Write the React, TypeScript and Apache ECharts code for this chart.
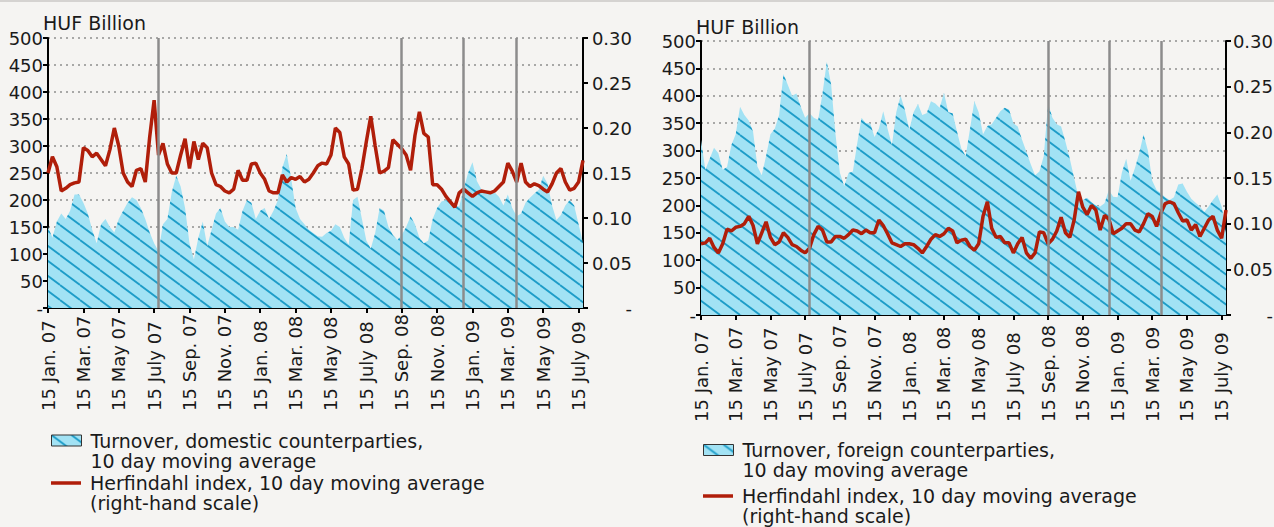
import React, { useEffect, useRef } from 'react';
import * as echarts from 'echarts';

// ---------- DATA ----------
const tickLabels = [
  '15 Jan. 07', '15 Mar. 07', '15 May 07', '15 July 07', '15 Sep. 07', '15 Nov. 07',
  '15 Jan. 08', '15 Mar. 08', '15 May 08', '15 July 08', '15 Sep. 08', '15 Nov. 08',
  '15 Jan. 09', '15 Mar. 09', '15 May 09', '15 July 09',
];

const weekDays = [1, 8, 15, 22];
const firstDate = '2007-01-15';
const lastDate = '2009-07-22';

function buildCategories(): string[] {
  const out: string[] = [];
  for (let y = 2007; y <= 2009; y++) {
    for (let m = 1; m <= 12; m++) {
      for (const d of weekDays) {
        const s = `${y}-${String(m).padStart(2, '0')}-${String(d).padStart(2, '0')}`;
        if (s >= firstDate && s <= lastDate) out.push(s);
      }
    }
  }
  return out;
}
const categories = buildCategories();

// vertical event markers
const eventDates = ['2007-07-22', '2008-09-15', '2009-01-01', '2009-04-01'];

// HUF billion, domestic counterparties
const domesticTurnover = [
  150, 130, 160, 175, 165, 180, 210, 210, 195, 175, 145, 120, 155, 165, 150, 140, 165, 180, 195, 205,
  200, 185, 165, 140, 120, 105, 155, 165, 215, 245, 225, 185, 120, 90, 130, 160, 115, 145, 175, 185,
  160, 150, 150, 145, 180, 200, 195, 165, 180, 185, 165, 180, 200, 260, 285, 240, 185,
  165, 155, 145, 139, 133, 132, 139, 143, 155, 150, 130, 117, 200, 206, 165, 125, 110, 139, 185, 180,
  150, 135, 126, 135, 150, 170, 155, 130, 120, 125, 165, 185, 197, 200, 196, 190, 188, 220, 250, 270,
  235, 220, 213, 216, 214, 206, 190, 210, 185, 170, 175, 195, 204, 212, 219, 245, 230, 190, 163, 172,
  190, 200, 190, 155, 120,
];

const domesticHerfindahl = [
  0.150, 0.168, 0.157, 0.130, 0.133, 0.137, 0.139, 0.140, 0.178, 0.175, 0.168, 0.172, 0.165, 0.158, 0.176,
  0.200, 0.180, 0.150, 0.140, 0.135, 0.153, 0.155, 0.140, 0.190, 0.231, 0.170, 0.183, 0.160, 0.150, 0.150,
  0.170, 0.188, 0.155, 0.185, 0.165, 0.183, 0.178, 0.150, 0.137, 0.135, 0.130, 0.128, 0.132, 0.153, 0.142,
  0.142, 0.160, 0.161, 0.150, 0.143, 0.130, 0.128, 0.128, 0.148, 0.140, 0.145, 0.143,
  0.146, 0.140, 0.143, 0.150, 0.158, 0.161, 0.160, 0.170, 0.200, 0.195, 0.168, 0.160, 0.131, 0.132, 0.155,
  0.185, 0.213, 0.180, 0.150, 0.152, 0.156, 0.187, 0.182, 0.177, 0.170, 0.153, 0.192, 0.218, 0.194, 0.190,
  0.137, 0.137, 0.132, 0.124, 0.118, 0.112, 0.128, 0.132, 0.128, 0.124, 0.128, 0.130, 0.129, 0.128, 0.130,
  0.135, 0.140, 0.161, 0.152, 0.140, 0.161, 0.140, 0.135, 0.138, 0.136, 0.132, 0.129, 0.138, 0.150, 0.155,
  0.140, 0.131, 0.133, 0.140, 0.164,
];

// HUF billion, foreign counterparties
const foreignTurnover = [
  320, 265, 285, 305, 295, 265, 270, 310, 330, 380, 365, 355, 335, 271, 255, 290, 330, 340, 365, 440,
  420, 400, 404, 380, 360, 368, 360, 356, 404, 462, 420, 330, 260, 235, 259, 262, 313, 360, 350, 350,
  325, 340, 372, 340, 310, 370, 400, 374, 338, 370, 385, 365, 368, 390, 386, 378, 405,
  370, 368, 335, 304, 290, 340, 390, 370, 330, 345, 348, 360, 372, 378, 375, 350, 344, 320, 298, 275,
  255, 262, 290, 386, 360, 348, 344, 316, 285, 250, 215, 210, 214, 206, 200, 198, 204, 228, 216, 215,
  260, 285, 245, 268, 295, 330, 300, 245, 228, 222, 215, 210, 215, 238, 240, 225, 212, 205, 198, 188,
  198, 210, 220, 198, 150,
];

const foreignHerfindahl = [
  0.078, 0.079, 0.084, 0.074, 0.068, 0.078, 0.094, 0.092, 0.096, 0.097, 0.100, 0.108, 0.098, 0.078, 0.090,
  0.102, 0.085, 0.077, 0.080, 0.090, 0.085, 0.077, 0.075, 0.071, 0.068, 0.073, 0.088, 0.097, 0.093, 0.080,
  0.080, 0.086, 0.086, 0.084, 0.088, 0.093, 0.092, 0.089, 0.093, 0.090, 0.090, 0.104, 0.098, 0.089, 0.079,
  0.077, 0.075, 0.078, 0.078, 0.077, 0.073, 0.068, 0.075, 0.083, 0.088, 0.086, 0.089,
  0.095, 0.092, 0.079, 0.082, 0.083, 0.075, 0.071, 0.078, 0.108, 0.124, 0.095, 0.085, 0.086, 0.079, 0.079,
  0.068, 0.078, 0.085, 0.068, 0.062, 0.068, 0.091, 0.090, 0.078, 0.083, 0.092, 0.107, 0.090, 0.085, 0.104,
  0.135, 0.118, 0.110, 0.120, 0.115, 0.093, 0.109, 0.105, 0.089, 0.092, 0.095, 0.100, 0.100, 0.093, 0.091,
  0.100, 0.111, 0.108, 0.097, 0.112, 0.122, 0.124, 0.122, 0.112, 0.103, 0.104, 0.093, 0.099, 0.086, 0.095,
  0.104, 0.108, 0.093, 0.084, 0.115,
];

const domName = 'Turnover, domestic counterparties,\n10 day moving average';
const forName = 'Turnover, foreign counterparties,\n10 day moving average';
const herfName = 'Herfindahl index, 10 day moving average\n(right-hand scale)';
const unitLabel = 'HUF Billion';

// ---------- STYLE ----------
const FONT = '"DejaVu Sans", sans-serif';
const TXT = '#1a1a1a';
const RED = '#b01e0a';
const BG = '#f5f4f2';

function makeHatch(): HTMLCanvasElement {
  const c = document.createElement('canvas');
  c.width = 20;
  c.height = 15;
  const ctx = c.getContext('2d')!;
  ctx.fillStyle = '#a2e2f4';
  ctx.fillRect(0, 0, 20, 15);
  ctx.strokeStyle = '#1e9dc8';
  ctx.lineWidth = 1.8;
  for (const k of [-1, 0, 1]) {
    ctx.beginPath();
    ctx.moveTo(0, 15 * k);
    ctx.lineTo(20, 15 * k + 15);
    ctx.stroke();
  }
  return c;
}

export default function App() {
  const ref = useRef<HTMLDivElement>(null);

  useEffect(() => {
    if (!ref.current) return;
    const chart = echarts.init(ref.current, undefined, { renderer: 'svg' });
    const hatch = { image: makeHatch(), repeat: 'repeat' } as any;

    const isTick = (i: number) => i % 8 === 0;

    const grids = [
      { left: 48, top: 38, width: 535, height: 270, margin: 103 },
      { left: 701, top: 41, width: 525, height: 274, margin: 107 },
    ];

    const xAxes = grids.map((g, gi) => ({
      type: 'category',
      gridIndex: gi,
      data: categories,
      boundaryGap: false,
      axisLine: { show: true, lineStyle: { color: '#000', width: 2 } },
      axisTick: { show: true, interval: (i: number) => isTick(i), length: 5, lineStyle: { color: '#000', width: 2 } },
      axisLabel: {
        interval: (i: number) => isTick(i),
        formatter: (_v: string, i: number) => (isTick(i) ? tickLabels[i / 8] : ''),
        rotate: 90,
        align: 'left',
        verticalAlign: 'middle',
        margin: g.margin,
        fontSize: 18,
        fontFamily: FONT,
        color: TXT,
      },
      splitLine: { show: false },
    }));

    const yAxes: any[] = [];
    grids.forEach((g, gi) => {
      yAxes.push({
        type: 'value', gridIndex: gi, min: 0, max: 500, interval: 50, position: 'left',
        axisLine: { show: true, lineStyle: { color: '#000', width: 2 } },
        axisTick: { show: true, length: 5, lineStyle: { color: '#000', width: 2 } },
        axisLabel: {
          formatter: (v: number) => (v === 0 ? '-' : String(v)),
          margin: 5, fontSize: 18, fontFamily: FONT, color: TXT,
        },
        splitLine: { show: true, lineStyle: { color: '#8f8f8f', width: 1.5, type: [2, 4] } },
      });
      yAxes.push({
        type: 'value', gridIndex: gi, min: 0, max: 0.3, interval: 0.05, position: 'right',
        axisLine: { show: true, lineStyle: { color: '#000', width: 2 } },
        axisTick: { show: true, length: 5, lineStyle: { color: '#000', width: 2 } },
        axisLabel: {
          formatter: (v: number) => (v === 0 ? '-' : v.toFixed(2)),
          align: 'right', margin: gi === 0 ? 49 : 47, fontSize: 18, fontFamily: FONT, color: TXT,
        },
        splitLine: { show: false },
      });
    });

    const markLine = {
      symbol: 'none',
      silent: true,
      label: { show: false },
      lineStyle: { color: '#8c8c8c', width: 2.5, type: 'solid' },
      data: eventDates.map((d) => ({ xAxis: d })),
    };

    const areaSeries = (name: string, gi: number, data: number[]) => ({
      name, type: 'line', xAxisIndex: gi, yAxisIndex: gi * 2, data,
      symbol: 'none', showSymbol: false, silent: true, z: 1,
      lineStyle: { width: 0, opacity: 0 },
      itemStyle: { color: '#a2e2f4' },
      areaStyle: { color: hatch, opacity: 1 },
    });
    const redSeries = (gi: number, data: number[]) => ({
      name: herfName, type: 'line', xAxisIndex: gi, yAxisIndex: gi * 2 + 1, data,
      symbol: 'none', showSymbol: false, silent: true, z: 3,
      lineStyle: { color: RED, width: 3.5 },
      itemStyle: { color: RED },
      markLine,
    });

    // a leading blank line keeps the icon level with the first text line
    const legendBase = {
      orient: 'vertical', itemWidth: 30, itemHeight: 11, padding: 0, selectedMode: false,
      symbolKeepAspect: true,
      formatter: (n: string) => ' \n' + n,
      textStyle: { fontFamily: FONT, fontSize: 19, color: TXT, lineHeight: 20, padding: [0, 0, 0, 4] },
    };
    const hatchItem = (name: string) => ({
      name, icon: 'rect', itemStyle: { color: hatch, borderColor: '#333', borderWidth: 1 },
    });
    const redItem = { name: herfName, icon: 'path://M0,0H60V7H0Z', itemStyle: { color: RED, borderWidth: 0 } };

    chart.setOption({
      animation: false,
      backgroundColor: BG,
      grid: grids.map((g) => ({ left: g.left, top: g.top, width: g.width, height: g.height, outerBoundsMode: 'none' })),
      xAxis: xAxes,
      yAxis: yAxes,
      legend: [
        { ...legendBase, left: 51, top: 440.5 - 30, data: [hatchItem(domName)] },
        { ...legendBase, left: 51, top: 483 - 30, data: [redItem] },
        { ...legendBase, left: 703, top: 450 - 30, data: [hatchItem(forName)] },
        { ...legendBase, left: 703, top: 496 - 30, data: [redItem] },
      ],
      graphic: [
        { type: 'rect', shape: { x: 0, y: 0, width: 1274, height: 2 }, style: { fill: '#d5d3d1' }, silent: true },
        { type: 'text', x: 43, y: 23, style: { text: unitLabel, fontSize: 19, fontFamily: FONT, fill: TXT, verticalAlign: 'middle' } },
        { type: 'text', x: 696, y: 27, style: { text: unitLabel, fontSize: 19, fontFamily: FONT, fill: TXT, verticalAlign: 'middle' } },
      ],
      series: [
        areaSeries(domName, 0, domesticTurnover),
        redSeries(0, domesticHerfindahl),
        areaSeries(forName, 1, foreignTurnover),
        redSeries(1, foreignHerfindahl),
      ],
    });

    return () => chart.dispose();
  }, []);

  return (
    <div
      ref={ref}
      style={{ position: 'fixed', left: 0, top: 0, width: 1274, height: 527 }}
    />
  );
}
